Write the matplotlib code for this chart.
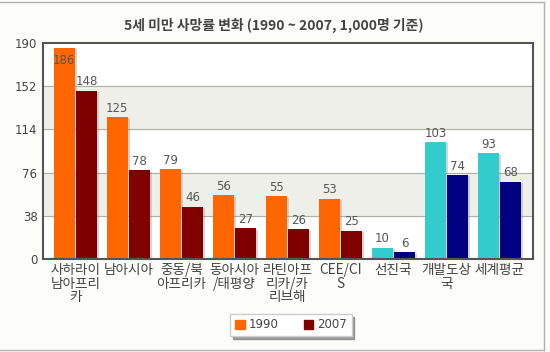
import matplotlib.pyplot as plt
import matplotlib.patheffects as pe
from matplotlib.patches import Patch
from matplotlib.lines import Line2D
import numpy as np

plt.rcParams['font.family'] = ['Noto Sans CJK KR', 'DejaVu Sans']
NUM_FONT = ['DejaVu Sans']

# ---------- data ----------
regions = ['사하라이\n남아프리\n카', '남아시아', '중동/북\n아프리카', '동아시아\n/태평양',
           '라틴아프\n리카/카\n리브해', 'CEE/CI\nS', '선진국', '개발도상\n국', '세계평균']
rate_1990 = [186, 125, 79, 56, 55, 53, 10, 103, 93]
rate_2007 = [148, 78, 46, 27, 26, 25, 6, 74, 68]
yticks = [0, 38, 76, 114, 152, 190]

# first six groups orange/darkred, last three cyan/navy
c1990 = ['#ff6600'] * 6 + ['#33cccc'] * 3
c2007 = ['#800000'] * 6 + ['#000080'] * 3

fig = plt.figure(figsize=(5.5, 3.52), dpi=100, facecolor='#fcfcf9')
ax = fig.add_axes([43 / 550, 1 - 259 / 352, 490 / 550, 216 / 352])
ax.set_facecolor('white')

# alternate bands
for i in range(len(yticks) - 1):
    if i % 2 == 0:
        continue
    ax.axhspan(yticks[i], yticks[i + 1], color='#efefe9', zorder=0)
for t in yticks[1:-1]:
    ax.axhline(t, color='#b0b0a8', lw=0.8, zorder=1)

x = np.arange(len(regions))
w = 0.4
shadow = [pe.SimplePatchShadow(offset=(1.5, -1), shadow_rgbFace='#888888', alpha=0.35), pe.Normal()]
b1 = ax.bar(x - w / 2 - 0.01, rate_1990, w, color=c1990, zorder=2)
b2 = ax.bar(x + w / 2 + 0.01, rate_2007, w, color=c2007, zorder=2)
for b in list(b1) + list(b2):
    b.set_path_effects(shadow)

ymax = 190
for bars, vals in [(b1, rate_1990), (b2, rate_2007)]:
    for b, v in zip(bars, vals):
        xc = b.get_x() + b.get_width() / 2
        if v + 14 > ymax:
            # no room above the bar: put the label inside the top
            ax.text(xc, v - 6, str(v), ha='center', va='top', fontsize=8.5,
                    family=NUM_FONT, color='#555555', zorder=3)
        else:
            ax.text(xc, v + 2, str(v), ha='center', va='bottom', fontsize=8.5,
                    family=NUM_FONT, color='#555555', zorder=3)

ax.set_xlim(-0.61, 8.63)
ax.set_ylim(0, ymax)
ax.set_yticks(yticks)
ax.set_yticklabels([str(t) for t in yticks], fontsize=8.5, color='#444444', family=NUM_FONT)
ax.set_xticks(x)
ax.set_xticklabels(regions, fontsize=9.8, color='#444444', linespacing=0.95)
ax.tick_params(axis='both', length=0, pad=4)
ax.tick_params(axis='x', pad=3)
for s in ax.spines.values():
    s.set_color('#555555')
    s.set_linewidth(1.5)

fig.text(274 / 550, 1 - 25 / 352, '5세 미만 사망률 변화 (1990 ~ 2007, 1,000명 기준)',
         ha='center', va='center', fontsize=10, fontweight='bold', color='#444444')

handles = [Patch(color='#ff6600', label='1990'), Patch(color='#800000', label='2007')]
leg = fig.legend(handles=handles, loc='center', bbox_to_anchor=(291 / 550, 1 - 325 / 352),
                 ncol=2, frameon=True, fancybox=False, shadow=True,
                 prop={'family': NUM_FONT, 'size': 8.5},
                 handlelength=0.8, handleheight=0.8, handletextpad=0.3,
                 columnspacing=2.2, borderpad=0.4)
leg.get_frame().set_edgecolor('#cccccc')
leg.get_frame().set_facecolor('white')
for t in leg.get_texts():
    t.set_color('#444444')

# outer frame
fig.add_artist(Line2D([0, 544 / 550], [1 - 1.5 / 352] * 2, color='#b0b0b0', lw=1))
fig.add_artist(Line2D([544 / 550] * 2, [1 - 1.5 / 352, 1 - 350 / 352], color='#b0b0b0', lw=1))
fig.add_artist(Line2D([0, 544 / 550], [1 - 350 / 352] * 2, color='#b0b0b0', lw=1))

fig.savefig('out.png', dpi=100, facecolor=fig.get_facecolor())
